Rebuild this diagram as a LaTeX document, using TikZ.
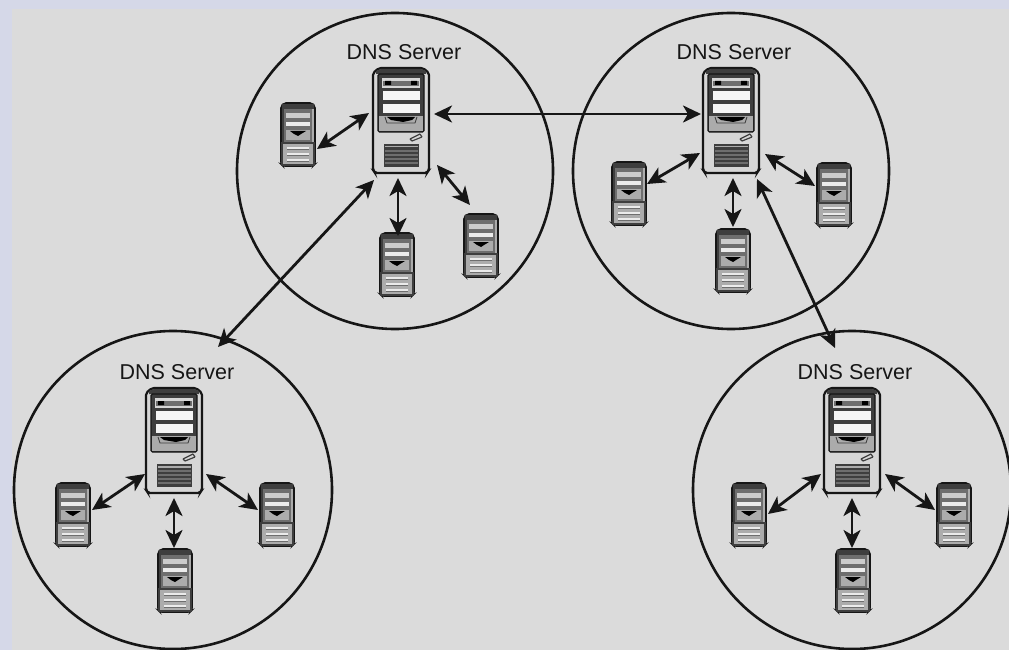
\documentclass[tikz,border=0pt]{standalone}
\usepackage{fontspec}
\setmainfont{Liberation Sans}
\usetikzlibrary{arrows.meta,calc}
\definecolor{pageblue}{RGB}{213,216,232}
\definecolor{panelgray}{RGB}{219,219,219}
\definecolor{ink}{RGB}{22,22,22}
\definecolor{bodylight}{RGB}{214,214,214}
\definecolor{bodymid}{RGB}{172,172,172}
\definecolor{framedark}{RGB}{62,62,62}
\definecolor{framemid}{RGB}{110,110,110}
\tikzset{
  x=1pt,y=-1pt,
  zone/.style={circle,draw=ink,line width=2.6pt,minimum size=316pt,inner sep=0pt},
  bigsrv/.style={rectangle,minimum width=56pt,minimum height=106pt,inner sep=0pt},
  smallsrv/.style={rectangle,minimum width=34pt,minimum height=64pt,inner sep=0pt},
  label/.style={font=\fontsize{21.5}{24}\selectfont,text=ink,inner sep=0pt},
  link/.style={draw=ink,line width=2.8pt,{Stealth[length=18pt,width=17pt,inset=5pt]}-{Stealth[length=18pt,width=17pt,inset=5pt]}},
  pics/bigserver/.style={code={
    \draw[ink,line width=2.2pt,fill=bodylight,rounded corners=2pt] (0,5) -- (0,102) -- (2,105) -- (54,105) -- (56,102) -- (56,5) -- (50,0) -- (6,0) -- cycle;
    \fill[framedark] (3,3) -- (8,1) -- (48,1) -- (53,3) -- (53,6) -- (3,6) -- cycle;
    \draw[ink,line width=1.4pt,fill=framedark,rounded corners=1.5pt] (5,6) rectangle (51,64);
    \fill[bodylight] (9,10) rectangle (47,20);
    \fill[framemid] (10,13) rectangle (46,18);
    \fill[black] (12,13) rectangle (18,17) (38,13) rectangle (44,17);
    \fill[white!96!black] (10,23) rectangle (47,32);
    \fill[white!96!black] (10,36) rectangle (47,45);
    \fill[bodylight!80!black] (6,48) rectangle (50,63);
    \draw[framedark,line width=.9pt] (12,49) -- (14,55) -- (42,55) -- (44,49);
    \fill[black] (14,49) -- (42,49) -- (39,52) -- (30,54) -- (18,52) -- cycle;
    \draw[framedark,line width=1.2pt] (37,71) -- (47,66) (39,73) -- (49,69) (37,71) -- (39,73) (47,66) -- (49,69);
    \fill[framedark] (11,76) rectangle (46,99);
    \foreach \yy/\cc in {78/bodymid,82/framemid,86/framemid,90/framemid,94/framemid}
      \fill[\cc] (12,\yy) rectangle (45,\yy+1.5);
  }},
  pics/smallserver/.style={code={
    \draw[ink,line width=1.6pt,fill=bodymid,rounded corners=2pt] (0,3) -- (0,61) -- (2,63) -- (32,63) -- (34,61) -- (34,3) -- (31,0) -- (3,0) -- cycle;
    \fill[framedark] (1,1) rectangle (33,6);
    \fill[framemid] (3,6) rectangle (31,39);
    \fill[framedark] (1,6) rectangle (3,39);
    \fill[white!80!black] (5,10) rectangle (29,15);
    \fill[white!92!black] (5,19) rectangle (29,23);
    \fill[bodymid] (5,27) rectangle (29,37);
    \fill[black] (9,28) -- (25,28) -- (20,31) -- (17,33) -- (13,31) -- cycle;
    \draw[framedark,line width=1.2pt,fill=bodymid] (1,40) rectangle (33,62);
    \foreach \yy in {44,50,56}{
      \fill[white!92!black] (6,\yy) rectangle (28,\yy+2);
      \fill[framemid] (6,\yy+2) rectangle (28,\yy+3);
    }
  }},
}
\begin{document}
\begin{tikzpicture}
\useasboundingbox (0,0) rectangle (1009,650);
\fill[pageblue] (0,0) rectangle (1009,650);
\fill[panelgray] (12,9) rectangle (1009,650);
\begin{scope}
\clip (0,0) rectangle (1009,650);
\node[zone] (zoneA) at (395,171) {};
\node[zone] (zoneB) at (731,171) {};
\node[zone,minimum size=318pt] (zoneC) at (173,490) {};
\node[zone,minimum size=318pt] (zoneD) at (852,490) {};
\end{scope}
\node[label] (labelA) at (404,52) {DNS Server};
\node[label] (labelB) at (734,52) {DNS Server};
\node[label] (labelC) at (177,372) {DNS Server};
\node[label] (labelD) at (855,372) {DNS Server};
% main servers
\node[bigsrv] (bigA) at (401,121) {};
\node[bigsrv] (bigB) at (731,121) {};
\node[bigsrv] (bigC) at (174,441) {};
\node[bigsrv] (bigD) at (852,441) {};
\pic at (373,68) {bigserver};
\pic at (703,68) {bigserver};
\pic at (146,388) {bigserver};
\pic at (824,388) {bigserver};
% small servers
\foreach \nm/\xx/\yy in {a1/281/103,a2/380/233,a3/464/214,b1/612/162,b2/716/229,b3/817/163,c1/56/483,c2/158/549,c3/260/483,d1/732/483,d2/836/549,d3/937/483}{
  \node[smallsrv] (\nm) at (\xx+17,\yy+32) {};
  \pic at (\xx,\yy) {smallserver};
}
% links
\draw[link] ($(a1)+(19,14)$) -- ($(bigA)+(-32,-8)$);
\draw[link] ($(bigA)+(33,-7)$) -- ($(bigB)+(-30,-7)$);
\draw[link] ($(bigA)+(-3,57)$) -- ($(a2)+(1,-29)$);
\draw[link] ($(bigA)+(36,44)$) -- ($(a3)+(-11,-41)$);
\draw[link] ($(bigA)+(-27,59)$) -- ($(bigC)+(44,-94)$);
\draw[link] ($(b1)+(18,-10)$) -- ($(bigB)+(-31,32)$);
\draw[link] ($(bigB)+(2,57)$) -- ($(b2)+(0,-34)$);
\draw[link] ($(bigB)+(34,33)$) -- ($(b3)+(-19,-9)$);
\draw[link] ($(bigB)+(26,58)$) -- ($(bigD)+(-17,-93)$);
\draw[link] ($(c1)+(19,-5)$) -- ($(bigC)+(-29,33)$);
\draw[link] ($(bigC)+(0,57)$) -- ($(c2)+(-1,-33)$);
\draw[link] ($(bigC)+(32,33)$) -- ($(c3)+(-19,-5)$);
\draw[link] ($(d1)+(19,-1)$) -- ($(bigD)+(-31,33)$);
\draw[link] ($(bigD)+(0,57)$) -- ($(d2)+(-1,-33)$);
\draw[link] ($(bigD)+(33,33)$) -- ($(d3)+(-19,-5)$);
\end{tikzpicture}
\end{document}
